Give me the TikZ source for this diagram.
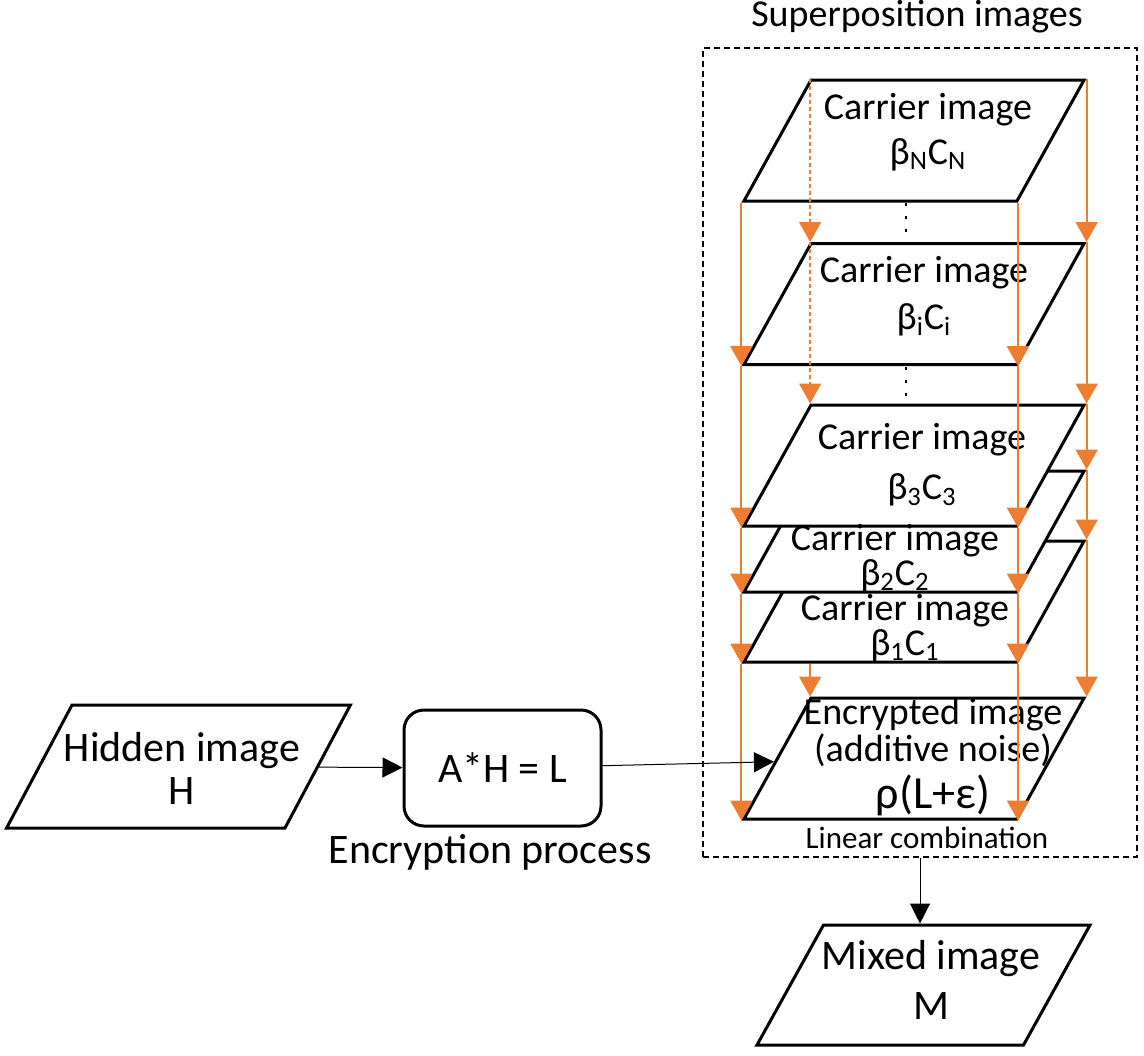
\documentclass[tikz,border=0pt]{standalone}
\usepackage{fontspec}
\setmainfont{Carlito}
\usepackage{tikz}
\usetikzlibrary{shapes.geometric,arrows.meta}
\usepackage{xcolor}
\definecolor{orangeline}{RGB}{237,125,49}
\newcommand{\taille}[2]{\fontsize{#1}{#2}\selectfont}

\begin{document}
\begin{tikzpicture}[x=0.5pt, y=-0.5pt]
\tikzstyle{plaque}=[draw, line width=1.5pt, fill=white, trapezium,
                    trapezium left angle=61, trapezium right angle=119,
                    inner xsep=51.5pt, inner ysep=30.25pt]
\tikzstyle{texte}=[align=center, inner sep=0pt, font=\taille{19}{22.5}]
\tikzstyle{fleche}=[-{Triangle[length=10pt,width=11pt]}, orangeline, line width=1pt]
\tikzstyle{tirets}=[fleche, line width=0.8pt, dash pattern=on 2pt off 1.5pt]
\tikzstyle{lien}=[-{Triangle[length=10pt,width=10pt]}, line width=0.5pt]
\useasboundingbox (0,0) rectangle (1144,1055);

% le cadre des images superposees
\node[draw, dash pattern=on 3pt off 2pt, line width=0.75pt,
      minimum width=217pt, minimum height=404.5pt] (cadre) at (920,452.5) {};
\node[font=\taille{19}{22}] (titre) at (917,17) {Superposition images};

\node[plaque] (enc) at (914,758.5) {};
\node[plaque] (c1) at (914,601.5) {};
\node[plaque] (c2) at (914,531.5) {};
\node[plaque] (c3) at (914,465.5) {};
\node[plaque] (ci) at (914,304) {};
\node[plaque] (cN) at (914,140.5) {};

\node[texte] (tN) at (928,132) {Carrier image\\β\textsubscript{N}C\textsubscript{N}};
\node[texte, font=\taille{19}{23.5}] (ti) at (924,296) {Carrier image\\β\textsubscript{i}C\textsubscript{i}};
\node[texte, font=\taille{19}{25}] (t3) at (922,465) {Carrier image\\β\textsubscript{3}C\textsubscript{3}};
\node[texte, font=\taille{19}{13.5}] (t2) at (895,558) {Carrier image\\β\textsubscript{2}C\textsubscript{2}};
\node[texte, font=\taille{19}{15}] (t1) at (905,628) {Carrier image\\β\textsubscript{1}C\textsubscript{1}};
\node[texte, font=\taille{19}{17}] (tenc) at (933,757) {Encrypted image\\(additive noise)\\[3pt]{\taille{23}{17}ρ(L+ε)}};
\node[font=\taille{15.5}{17}] (lin) at (927,838) {Linear combination};

\draw[dash pattern=on 1.5pt off 5pt, line width=1pt] (906,203) -- (906,238);
\draw[dash pattern=on 1.5pt off 5pt, line width=1pt] (906,367) -- (906,402);

\path
    (cN.bottom left corner) edge[fleche] (ci.bottom left corner)
    (ci.bottom left corner) edge[fleche] (c3.bottom left corner)
    (c3.bottom left corner) edge[fleche] (c2.bottom left corner)
    (c2.bottom left corner) edge[fleche] (c1.bottom left corner)
    (c1.bottom left corner) edge[fleche] (enc.bottom left corner)
    (cN.bottom right corner) edge[fleche] (ci.bottom right corner)
    (ci.bottom right corner) edge[fleche] (c3.bottom right corner)
    (c3.bottom right corner) edge[fleche] (c2.bottom right corner)
    (c2.bottom right corner) edge[fleche] (c1.bottom right corner)
    (c1.bottom right corner) edge[fleche] (enc.bottom right corner)
    (cN.top right corner) edge[fleche] (ci.top right corner)
    (ci.top right corner) edge[fleche] (c3.top right corner)
    (c3.top right corner) edge[fleche] (c2.top right corner)
    (c2.top right corner) edge[fleche] (c1.top right corner)
    (c1.top right corner) edge[fleche] (enc.top right corner)
    (cN.top left corner) edge[tirets] (ci.top left corner)
    (ci.top left corner) edge[tirets] (c3.top left corner)
    (enc.top left corner |- c1.south) edge[fleche] (enc.top left corner);

\node[plaque, trapezium left angle=62, trapezium right angle=118,
      inner xsep=53.25pt, inner ysep=30.75pt] (cache) at (178.5,766.5) {};
\node[texte, font=\taille{21}{21.5}] (tcache) at (182,768) {Hidden image\\H};
\node[draw, line width=1.5pt, rounded corners=10pt, minimum width=98.5pt,
      minimum height=58pt, font=\taille{21}{22}] (proc) at (502.5,768) {A*H = L};
\node[font=\taille{21}{22}] (nomproc) at (490,852) {Encryption process};
\node[plaque, inner xsep=50pt, inner ysep=30pt] (melange) at (923.5,985) {};
\node[texte, font=\taille{21}{25}] (tmelange) at (931,980) {Mixed image\\M};

\draw[lien] (cache) -- (proc);
\draw[lien] (proc) -- (enc);
\draw[lien] (cadre.south) -- (cadre.south |- melange.north);
\end{tikzpicture}
\end{document}
